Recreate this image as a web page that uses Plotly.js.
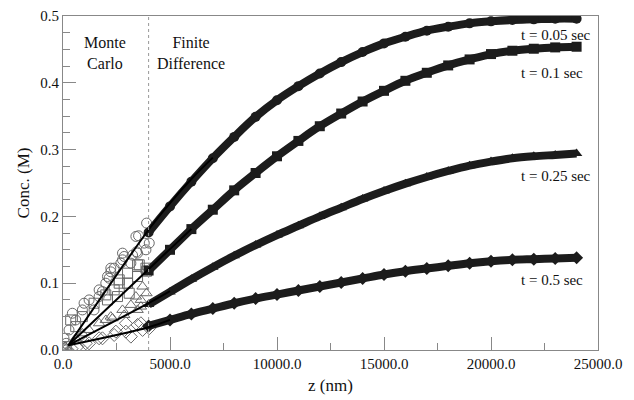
<!DOCTYPE html>
<html>
<head>
<meta charset="utf-8">
<script src="https://cdn.plot.ly/plotly-3.0.1.min.js"></script>
<style>html,body{margin:0;padding:0;background:#fff;}#chart{width:634px;height:400px;}</style>
</head>
<body>
<div id="chart"></div>
<script>
// Finite-difference results (z in nm, concentration in M)
const fdZ = [4000,5000,6000,7000,8000,9000,10000,11000,12000,13000,14000,15000,16000,17000,18000,19000,20000,21000,22000,23000,24000];
const fdT005 = [0.176,0.215,0.252,0.287,0.319,0.349,0.374,0.395,0.414,0.431,0.446,0.459,0.469,0.478,0.484,0.489,0.492,0.494,0.495,0.496,0.496];
const fdT01  = [0.119,0.150,0.181,0.210,0.239,0.265,0.290,0.313,0.335,0.354,0.372,0.388,0.403,0.415,0.426,0.435,0.443,0.448,0.451,0.453,0.454];
const fdT025 = [0.068,0.087,0.106,0.124,0.141,0.157,0.172,0.186,0.200,0.213,0.226,0.238,0.249,0.259,0.268,0.276,0.282,0.287,0.290,0.292,0.294];
const fdT05  = [0.036,0.045,0.054,0.062,0.070,0.077,0.083,0.089,0.095,0.101,0.107,0.113,0.118,0.122,0.126,0.130,0.133,0.135,0.136,0.137,0.138];

// Solid model lines
const fitZ005 = [250,4000,5000,6000,7000];
const fitC005 = [0.007,0.180,0.220,0.256,0.288];
const fitZ01 = [250,4000,5000,6000];
const fitC01 = [0.007,0.121,0.151,0.181];
const fitZ025 = [250,4000,5000];
const fitC025 = [0.007,0.070,0.088];
const fitZ05 = [250,4000,5000];
const fitC05 = [0.007,0.034,0.045];

// Monte Carlo open-marker results
const mcZ005 = [0,47,150,281,438,594,906,984,1219,1450,1688,1688,1844,2000,2078,2156,2234,2234,2391,2703,2781,2781,2859,3172,3250,3438,3484,3531,3797,3875,3906,4031,3406];
const mcC005 = [0.005,0.0175,0.01,0.03,0.055,0.045,0.06,0.07,0.075,0.06,0.08,0.09,0.0875,0.10,0.11,0.1075,0.117,0.1225,0.1225,0.13,0.135,0.145,0.14,0.13,0.142,0.147,0.145,0.171,0.16,0.15,0.19,0.16,0.17];
const mcZ01 = [0,150,359,594,906,1453,2000,2078,2391,2547,2625,2625,3016,3016,3094,3484,3484,3563,3875,3906];
const mcC01 = [0.0,0.005,0.045,0.035,0.05,0.07,0.0825,0.075,0.09,0.08,0.10,0.105,0.115,0.10,0.085,0.11,0.1275,0.1275,0.1225,0.118];
const mcZ025 = [100,594,900,1219,1688,2000,2234,2313,2781,2859,3172,3406,3484,3641,3641,3719,3900];
const mcC025 = [0.005,0.0175,0.025,0.03,0.04,0.045,0.05,0.0475,0.06,0.0525,0.0675,0.08,0.06,0.065,0.075,0.095,0.085];
const mcZ05 = [150,400,672,1063,1219,1688,1844,2391,2469,2938,2938,3172,3484,3641,3719,4031];
const mcC05 = [0.0,0.002,0.005,0.01,0.01,0.0175,0.0175,0.0225,0.0275,0.0275,0.04,0.02,0.0375,0.04,0.03,0.0325];

const mcBoundary = 4000;
const xTickVals = [0,5000,10000,15000,20000,25000];
const yTickVals = [0,0.1,0.2,0.3,0.4,0.5];

const seriesLabels = ['t = 0.05 sec','t = 0.1 sec','t = 0.25 sec','t = 0.5 sec'];
const labelY = [0.472,0.415,0.261,0.105];
const labelZ = 21300;

const openColor = '#6a6a6a';
const fillColor = '#1c1c1c';
const symbols = ['circle','square','triangle-up','diamond'];

const mcSets = [[mcZ005,mcC005],[mcZ01,mcC01],[mcZ025,mcC025],[mcZ05,mcC05]];
const fdSets = [fdT005,fdT01,fdT025,fdT05];
const fitSets = [[fitZ005,fitC005],[fitZ01,fitC01],[fitZ025,fitC025],[fitZ05,fitC05]];

const traces = [];
mcSets.forEach((s,i)=>{
  traces.push({x:s[0],y:s[1],mode:'markers',type:'scatter',
    marker:{symbol:symbols[i]+'-open',size:10,color:openColor,line:{width:1,color:openColor}},
    hoverinfo:'skip',showlegend:false});
});
fdSets.forEach((c,i)=>{
  traces.push({x:fdZ,y:c,mode:'lines+markers',type:'scatter',
    line:{color:fillColor,width:8,shape:'spline'},
    marker:{symbol:symbols[i],size:10,color:fillColor},
    hoverinfo:'skip',showlegend:false});
});
fitSets.forEach((s,i)=>{
  traces.push({x:s[0],y:s[1],mode:'lines',type:'scatter',
    line:{color:'#000',width:2,shape:'spline'},hoverinfo:'skip',showlegend:false});
});

const serif = '"Liberation Serif", "Times New Roman", serif';
const font = {family:serif, size:15, color:'#111'};

const annotations = seriesLabels.map((t,i)=>({
  x:labelZ,y:labelY[i],xref:'x',yref:'y',text:t,showarrow:false,xanchor:'left',yanchor:'middle',
  font:{family:serif,size:15,color:'#111'}
}));
annotations.push({x:1969,y:0.444,xref:'x',yref:'y',text:'Monte<br>Carlo',showarrow:false,
  font:{family:serif,size:16,color:'#111'}});
annotations.push({x:6000,y:0.444,xref:'x',yref:'y',text:'Finite<br>Difference',showarrow:false,
  font:{family:serif,size:16,color:'#111'}});

const layout = {
  width:634,height:400,
  margin:{l:63,r:36,t:16,b:50},
  paper_bgcolor:'#fff',plot_bgcolor:'#fff',
  font:font,
  showlegend:false,
  xaxis:{range:[0,25000],tickvals:xTickVals,tickformat:'.1f',ticks:'inside',ticklen:13,tickcolor:'#888',
    tickfont:{family:serif,size:15,color:'#111'},
    showgrid:false,zeroline:false,showline:true,linecolor:'#888',linewidth:1,mirror:true,
    minor:{dtick:2500,ticks:'inside',ticklen:7,tickcolor:'#888'},
    title:{text:'z (nm)',font:{family:serif,size:17,color:'#111'},standoff:8}},
  yaxis:{range:[0,0.5],tickvals:yTickVals,tickformat:'.1f',ticks:'inside',ticklen:13,tickcolor:'#888',
    tickfont:{family:serif,size:15,color:'#111'},
    showgrid:false,zeroline:false,showline:true,linecolor:'#888',linewidth:1,mirror:true,
    minor:{dtick:0.025,ticks:'inside',ticklen:7,tickcolor:'#888'},
    title:{text:'Conc. (M)',font:{family:serif,size:17,color:'#111'},standoff:6}},
  shapes:[{type:'line',xref:'x',yref:'paper',x0:mcBoundary,x1:mcBoundary,y0:0,y1:1,
    line:{color:'#999',width:1,dash:'dot'}}],
  annotations:annotations
};

Plotly.newPlot('chart',traces,layout,{staticPlot:true,displayModeBar:false});
</script>
</body>
</html>
